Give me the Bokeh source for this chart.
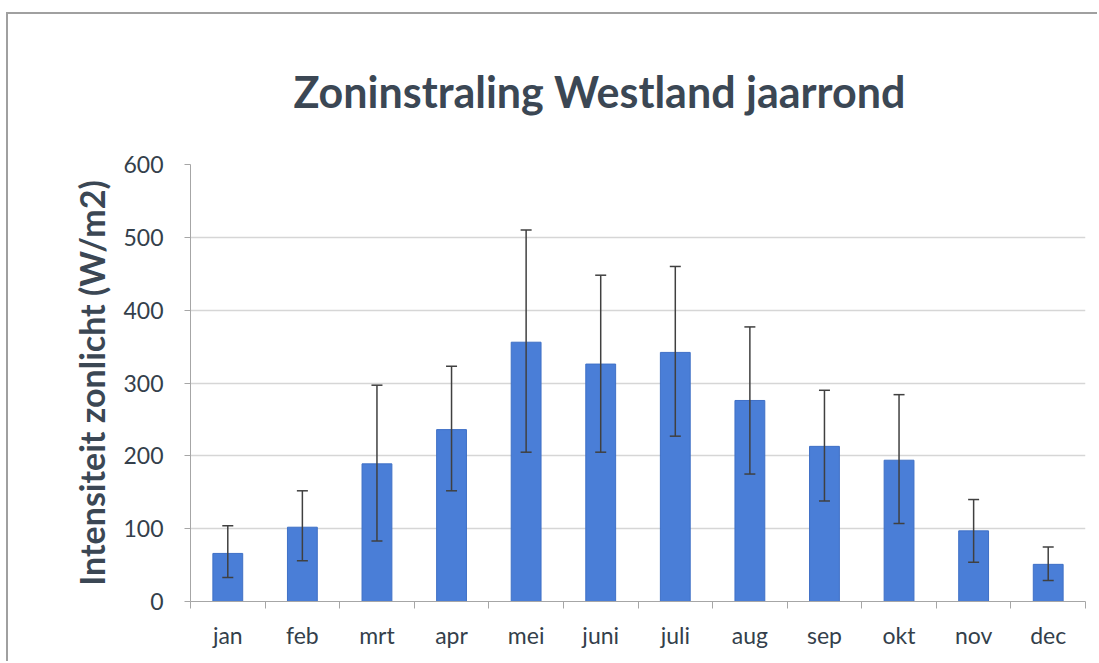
from bokeh.plotting import figure
from bokeh.models import Range1d, FixedTicker, ColumnDataSource, Whisker, TeeHead, Title
from bokeh.embed import file_html
from bokeh.resources import INLINE

months = ["jan", "feb", "mrt", "apr", "mei", "juni", "juli", "aug", "sep", "okt", "nov", "dec"]
intensity = [66, 102, 189, 236, 356, 326, 342, 276, 213, 194, 97, 51]
err_upper = [104, 152, 297, 323, 510, 448, 460, 377, 290, 284, 140, 75]
err_lower = [33, 56, 83, 152, 205, 205, 227, 175, 138, 107, 54, 29]
y_ticks = [0, 100, 200, 300, 400, 500, 600]

title_text = "Zoninstraling Westland jaarrond"
y_label = "Intensiteit zonlicht (W/m2)"

TXT = "#3b4754"
FONT = "Lato"
AX = "#a6a6a6"

pos = list(range(1, len(months) + 1))
bounds = [i + 0.5 for i in range(0, len(months) + 1)]

src = ColumnDataSource(dict(x=pos, top=intensity, upper=err_upper, lower=err_lower))

p = figure(width=1091, height=649, output_backend="svg", toolbar_location=None,
           x_range=Range1d(0.5, len(months) + 0.5), y_range=Range1d(0, 600),
           min_border_left=182, min_border_right=14, min_border_top=150, min_border_bottom=62)
p.styles = {"margin-left": "6px", "margin-top": "12px",
            "border-left": "2px solid #a0a0a0", "border-top": "2px solid #a0a0a0"}
p.outline_line_color = None
p.background_fill_color = "white"
p.border_fill_color = "white"

main_title = Title(text=title_text, text_font=FONT, text_font_size="43px", text_font_style="bold",
                   text_color=TXT, align="left", offset=103, standoff=95)
p.add_layout(main_title, "above")

p.vbar(x="x", top="top", width=0.40, source=src, fill_color="#4a7ed7", line_color="#3f70c6", line_width=1)

w = Whisker(base="x", upper="upper", lower="lower", source=src,
            line_color="#404040", line_width=1.5, level="overlay",
            upper_head=TeeHead(size=11, line_color="#404040", line_width=1.5),
            lower_head=TeeHead(size=11, line_color="#404040", line_width=1.5))
p.add_layout(w)

# y axis
p.yaxis.ticker = FixedTicker(ticks=y_ticks)
p.yaxis.axis_line_color = AX
p.yaxis.major_tick_line_color = AX
p.yaxis.major_tick_out = 6
p.yaxis.major_tick_in = 0
p.yaxis.minor_tick_line_color = None
p.yaxis.major_label_text_font = FONT
p.yaxis.major_label_text_font_size = "23px"
p.yaxis.major_label_text_color = "#343f4b"
p.yaxis.major_label_standoff = 21
p.yaxis.axis_label = y_label
p.yaxis.axis_label_text_font = FONT
p.yaxis.axis_label_text_font_size = "34px"
p.yaxis.axis_label_text_font_style = "bold"
p.yaxis.axis_label_text_color = TXT
p.yaxis.axis_label_standoff = 8

# x axis
p.xaxis.ticker = FixedTicker(ticks=pos, minor_ticks=bounds)
p.xaxis.major_label_overrides = {i: m for i, m in zip(pos, months)}
p.xaxis.axis_line_color = AX
p.xaxis.major_tick_line_color = None
p.xaxis.minor_tick_line_color = AX
p.xaxis.minor_tick_out = 7
p.xaxis.minor_tick_in = 0
p.xaxis.major_label_text_font = FONT
p.xaxis.major_label_text_font_size = "23px"
p.xaxis.major_label_text_color = "#343f4b"
p.xaxis.major_label_standoff = 12

p.xgrid.grid_line_color = None
p.ygrid.grid_line_color = "#d6d6d6"
p.ygrid.grid_line_width = 1.5

open("out.html", "w").write(file_html(p, INLINE))
